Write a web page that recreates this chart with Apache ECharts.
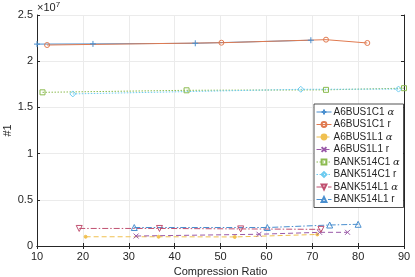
<!DOCTYPE html>
<html><head><meta charset="utf-8">
<script src="https://cdn.jsdelivr.net/npm/echarts@6/dist/echarts.min.js"></script>
<style>html,body{margin:0;padding:0;background:#fff}#c{width:415px;height:277px}</style>
</head><body><div id="c"></div>
<script>
// Data (x = compression ratio, y = #1)
const seriesNames = ['A6BUS1C1 α','A6BUS1C1 r','A6BUS1L1 α','A6BUS1L1 r','BANK514C1 α','BANK514C1 r','BANK514L1 α','BANK514L1 r'];
const a6c1_alpha = [[10,2.185e7],[22.2,2.187e7],[44.5,2.194e7],[69.7,2.227e7]];
const a6c1_r     = [[12.2,2.175e7],[50.2,2.200e7],[73.0,2.233e7],[82.0,2.197e7]];
const a6l1_alpha = [[20.6,0.100e7],[36.5,0.100e7],[53.1,0.098e7],[71.1,0.125e7]];
const a6l1_r     = [[31.6,0.108e7],[58.4,0.127e7],[71.6,0.148e7],[77.7,0.148e7]];
const b5c1_alpha = [[11.2,1.663e7],[42.6,1.685e7],[73.0,1.690e7],[90,1.708e7]];
const b5c1_r     = [[17.8,1.646e7],[67.5,1.696e7],[88.8,1.698e7]];
const b5l1_alpha = [[19.2,0.190e7],[36.7,0.190e7],[54.4,0.185e7],[71.9,0.180e7]];
const b5l1_r     = [[31.2,0.200e7],[60.2,0.200e7],[73.8,0.227e7],[80.0,0.235e7]];
const xTicks = [10,20,30,40,50,60,70,80,90];
const yTicks = [0,0.5e7,1e7,1.5e7,2e7,2.5e7];

const colors = ['#4a8fcf','#e07a50','#f0c050','#9a5aa8','#8cbb50','#6ccbf0','#c05070','#4a8fcf'];
const dataList = [a6c1_alpha,a6c1_r,a6l1_alpha,a6l1_r,b5c1_alpha,b5c1_r,b5l1_alpha,b5l1_r];
const lineTypes = ['solid','solid',[5,3],[5,3],[1.5,1.5],[1.5,1.5],[6,2,1.5,2],[6,2,1.5,2]];
const symbols = ['path://M5,0L5,10M0,5L10,5','circle','circle','path://M0,0L10,10M10,0L0,10','rect','diamond','triangle','triangle'];
const sizes = [6,5,3,5,5,6,6,6];
const rots = [0,0,0,0,0,0,180,0];
const filled = [false,false,true,false,false,false,false,false];

const series = dataList.map((d,i)=>({
  name: seriesNames[i], type:'line', data:d, symbol:symbols[i], symbolSize:sizes[i], symbolRotate:rots[i],
  showAllSymbol:true, animation:false,
  lineStyle:{color:colors[i], width:1, type:lineTypes[i]},
  itemStyle:{color: filled[i]?colors[i]:'rgba(0,0,0,0)', borderColor:colors[i], borderWidth:1}
}));

const font = 'Liberation Sans, Arial, sans-serif';
const chart = echarts.init(document.getElementById('c'));
chart.setOption({
  animation:false,
  grid:{left:37,right:11,top:15,bottom:31,containLabel:false,outerBoundsMode:'none'},
  xAxis:[{type:'value',min:10,max:90,interval:10,
    axisLine:{show:true,lineStyle:{color:'#262626',width:1}},
    axisTick:{show:true,inside:true,length:3,lineStyle:{color:'#262626'}},
    axisLabel:{color:'#262626',fontSize:11,fontFamily:font,margin:5},
    splitLine:{show:true,lineStyle:{color:'#ebebeb',width:1}},
    name:'Compression Ratio',nameLocation:'middle',nameGap:20,nameMoveOverlap:false,
    nameTextStyle:{color:'#262626',fontSize:11,fontFamily:font}},
   {type:'value',position:'top',min:10,max:90,interval:10,
    axisLine:{show:true,lineStyle:{color:'#262626',width:1}},
    axisTick:{show:true,inside:true,length:3,lineStyle:{color:'#262626'}},
    axisLabel:{show:false},splitLine:{show:false}}],
  yAxis:[{type:'value',min:0,max:2.5e7,interval:0.5e7,
    axisLine:{show:true,lineStyle:{color:'#262626',width:1}},
    axisTick:{show:true,inside:true,length:3,lineStyle:{color:'#262626'}},
    axisLabel:{color:'#262626',fontSize:11,fontFamily:font,margin:4,
      formatter:v=>String(Math.round(v/1e6)/10)},
    splitLine:{show:true,lineStyle:{color:'#ebebeb',width:1}},
    name:'#1',nameLocation:'middle',nameGap:24,nameRotate:90,nameMoveOverlap:false,
    nameTextStyle:{color:'#262626',fontSize:11,fontFamily:font}},
   {type:'value',position:'right',min:0,max:2.5e7,interval:0.5e7,
    axisLine:{show:true,lineStyle:{color:'#262626',width:1}},
    axisTick:{show:true,inside:true,length:3,lineStyle:{color:'#262626'}},
    axisLabel:{show:false},splitLine:{show:false}}],
  legend:{orient:'vertical',left:314,top:104,padding:[3,2,3,2],itemGap:2.5,itemWidth:15,itemHeight:6,
    backgroundColor:'#fff',borderColor:'#262626',borderWidth:0.8,
    lineStyle:{width:1},
    data:seriesNames,
    formatter:n=>n.replace(' α',' {i|α}'),
    textStyle:{color:'#262626',fontSize:10,fontFamily:font,lineHeight:9,width:68,overflow:'none',padding:[0,0,0,-3],
      rich:{i:{fontStyle:'italic',fontFamily:'DejaVu Serif, serif',fontSize:10,lineHeight:9,color:'#262626'}}}},
  graphic:[{type:'text',left:37,top:1,style:{text:'×10{s|7}',fill:'#262626',font:'11px '+font,
    rich:{s:{fontSize:8,verticalAlign:'top',fill:'#262626',padding:[0,0,6,0]}}}}],
  series:series
});
</script></body></html>
